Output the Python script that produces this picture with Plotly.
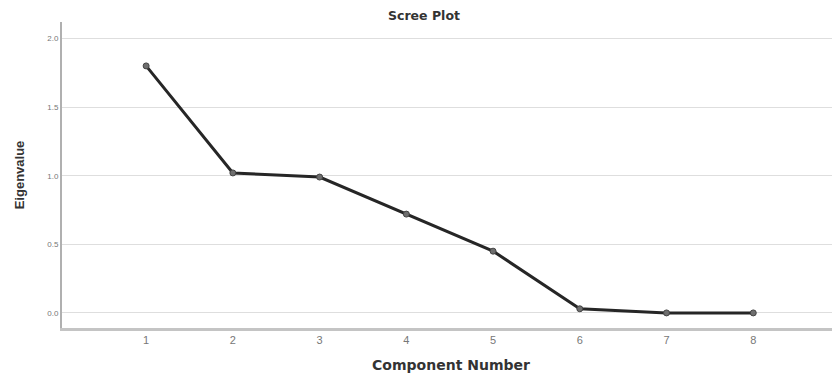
import plotly.graph_objects as go

components = [1, 2, 3, 4, 5, 6, 7, 8]
eigenvalues = [1.80, 1.02, 0.99, 0.72, 0.45, 0.03, 0.00, 0.00]
y_ticks = [0.0, 0.5, 1.0, 1.5, 2.0]
y_tick_labels = ["0.0", "0.5", "1.0", "1.5", "2.0"]

fig = go.Figure()
fig.add_trace(go.Scatter(
    x=components, y=eigenvalues, mode="lines+markers",
    line=dict(color="#262626", width=3),
    marker=dict(color="#6e6e6e", size=6, line=dict(color="#444", width=1)),
    showlegend=False,
))

fig.update_layout(
    width=832, height=370,
    margin=dict(l=54, r=0, t=14, b=50),
    paper_bgcolor="white", plot_bgcolor="white",
    font=dict(family="Liberation Sans, Arial, sans-serif", color="#333"),
    title=dict(text="<b>Scree Plot</b>", x=0.5, xanchor="center", y=0.98, yanchor="middle",
               font=dict(family="DejaVu Sans", size=12.5, color="#333")),
    xaxis=dict(
        range=[0.03, 9.0], tickvals=components, ticktext=[str(c) for c in components],
        showgrid=False, zeroline=False, showline=True, linecolor="#c4c4c4", linewidth=3,
        ticks="", tickfont=dict(size=11, color="#777"),
        title=dict(text="<b>Component Number</b>", font=dict(family="DejaVu Sans", size=14, color="#333"), standoff=15),
    ),
    yaxis=dict(
        range=[-0.11, 2.12], tickvals=y_ticks, ticktext=y_tick_labels,
        showgrid=True, gridcolor="#dedede", gridwidth=1, zeroline=False,
        showline=True, linecolor="#b0b0b0", linewidth=2,
        ticks="", tickfont=dict(size=8, color="#777"),
        title=dict(text="<b>Eigenvalue</b>", font=dict(size=13, color="#333"), standoff=20),
    ),
)

fig.write_html("out.html")
